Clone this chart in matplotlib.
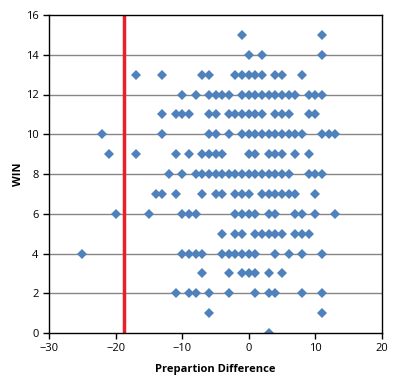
import matplotlib.pyplot as plt

# scatter points, grouped by WIN value
wins_x = {
    15: [-1, 11],
    14: [0, 2, 11],
    13: [-17, -13, -7, -6, -2, -1, 0, 1, 2, 4, 5, 8],
    12: [-10, -8, -6, -5, -4, -3, -1, 0, 1, 2, 3, 4, 5, 6, 7, 9, 10, 11],
    11: [-13, -11, -10, -9, -6, -5, -3, -2, -1, 0, 1, 2, 4, 5, 6, 9, 10],
    10: [-22, -13, -6, -5, -3, -1, 0, 1, 2, 3, 4, 5, 6, 7, 8, 11, 12, 13],
    9: [-21, -17, -11, -9, -7, -6, -5, -4, 0, 1, 3, 4, 5, 7, 9],
    8: [-12, -10, -8, -7, -6, -5, -4, -3, -2, -1, 0, 1, 2, 3, 4, 5, 6, 9, 10, 11],
    7: [-14, -13, -11, -7, -5, -4, -2, -1, 0, 2, 3, 4, 5, 6, 7, 10],
    6: [-20, -15, -10, -9, -8, -2, -1, 0, 1, 3, 4, 7, 8, 10, 13],
    5: [-4, -2, -1, 1, 2, 3, 4, 5, 7, 8, 9],
    4: [-25, -10, -9, -8, -7, -4, -3, -2, -1, 0, 1, 4, 6, 8, 11],
    3: [-7, -3, -1, 0, 1, 3, 5],
    2: [-11, -9, -8, -6, -3, 1, 3, 4, 8, 11],
    1: [-6, 11],
    0: [3],
}
cutoff = -18.8

xs, ys = [], []
for w, vals in wins_x.items():
    xs += vals
    ys += [w] * len(vals)

plt.rcParams['font.family'] = ['Open Sans', 'DejaVu Sans']
fig = plt.figure(figsize=(4.04, 3.91), dpi=100)
ax = fig.add_axes([49/404, 1 - 333/391, 333/404, 318/391])

for y in range(2, 16, 2):
    ax.axhline(y, color='#868686', lw=1, zorder=1)
ax.plot(xs, ys, 'D', color='#4F81BD', markersize=5.6, markeredgewidth=0, zorder=3)
ax.axvline(cutoff, color='#E8202A', lw=2.5, zorder=4)

ax.set_xlim(-30, 20)
ax.set_ylim(0, 16)
ax.set_xticks(range(-30, 21, 10))
ax.set_yticks(range(0, 17, 2))
ax.tick_params(labelsize=8, length=4, width=1, colors='black')
for s in ax.spines.values():
    s.set_color('black')
    s.set_linewidth(1)
    s.set_zorder(5)
ax.set_xlabel('Prepartion Difference', fontsize=8, fontweight='bold', labelpad=7)
ax.set_ylabel('WIN', fontsize=8, fontweight='bold', labelpad=1)

fig.savefig('out.png', dpi=100)
